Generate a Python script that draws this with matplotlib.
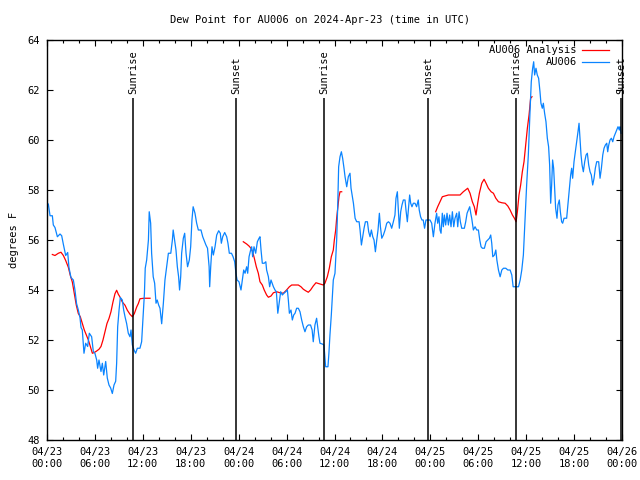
import numpy as np
import matplotlib
matplotlib.use("Agg")
import matplotlib.pyplot as plt
from matplotlib.lines import Line2D

plt.rcParams['font.family'] = ['DejaVu Sans Mono']
plt.rcParams['font.size'] = 7.5

# hours since 2024-04-23 00:00 UTC
obs_h = [0.0, 0.17, 0.38, 0.67, 0.79, 1.0, 1.3, 1.63, 1.84, 2.04, 2.34, 2.59, 2.75, 3.0, 3.3, 3.5, 3.7, 3.92,
         4.13, 4.26, 4.42, 4.63, 4.84, 5.09, 5.3, 5.59, 5.8, 6.0, 6.22, 6.34, 6.51, 6.76, 6.93, 7.1, 7.35, 7.55,
         7.76, 7.97, 8.18, 8.39, 8.6, 8.72, 8.85, 9.02, 9.18, 9.43, 9.6, 9.77, 9.97, 10.18, 10.39, 10.52, 10.69,
         10.9, 11.1, 11.31, 11.64, 11.85, 12.06, 12.2, 12.3, 12.48, 12.7, 12.8, 12.98, 13.1, 13.3, 13.48, 13.65,
         13.8, 13.98, 14.15, 14.36, 14.57, 14.77, 14.98, 15.2, 15.5, 15.7, 15.8, 15.98, 16.15, 16.32, 16.48, 16.6,
         16.74, 16.86, 17.07, 17.24, 17.41, 17.6, 17.82, 17.99, 18.15, 18.3, 18.53, 18.74, 18.95, 19.28, 19.5,
         19.66, 19.9, 20.1, 20.3, 20.37, 20.5, 20.66, 20.83, 21.04, 21.25, 21.5, 21.7, 21.83, 22.0, 22.25, 22.5,
         22.66, 22.83, 23.1, 23.3, 23.5, 23.66, 23.8, 24.04, 24.29, 24.46, 24.63, 24.8, 25.0, 25.13, 25.3, 25.5,
         25.63, 25.75, 25.92, 26.13, 26.34, 26.55, 26.67, 26.8, 26.96, 27.2, 27.4, 27.5, 27.72, 27.88, 28.05,
         28.2, 28.35, 28.55, 28.72, 28.9, 29.1, 29.26, 29.47, 29.67, 29.89, 30.1, 30.22, 30.35, 30.55, 30.72,
         30.89, 31.06, 31.26, 31.47, 31.68, 31.89, 32.1, 32.3, 32.51, 32.72, 33.0, 33.2, 33.34, 33.55, 33.76,
         33.89, 34.05, 34.18, 34.47, 34.68, 34.8, 34.89, 35.18, 35.3, 35.43, 35.6, 35.85, 36.06, 36.27, 36.4,
         36.52, 36.69, 36.86, 37.02, 37.19, 37.32, 37.53, 37.73, 37.94, 38.07, 38.24, 38.37, 38.58, 38.78, 39.08,
         39.2, 39.37, 39.53, 39.7, 39.87, 40.12, 40.28, 40.45, 40.62, 40.79, 40.95, 41.12, 41.29, 41.45, 41.62,
         41.75, 41.92, 42.12, 42.33, 42.54, 42.75, 42.95, 43.16, 43.37, 43.57, 43.7, 43.87, 43.99, 44.12, 44.29,
         44.45, 44.62, 44.83, 44.95, 45.12, 45.29, 45.41, 45.54, 45.7, 45.87, 46.08, 46.28, 46.49, 46.61, 46.78,
         46.95, 47.11, 47.28, 47.45, 47.74, 47.96, 48.17, 48.38, 48.58, 48.79, 48.92, 49.08, 49.21, 49.34, 49.5,
         49.63, 49.76, 49.92, 50.09, 50.26, 50.42, 50.59, 50.76, 50.93, 51.09, 51.3, 51.43, 51.6, 51.76, 51.93,
         52.26, 52.43, 52.6, 52.76, 52.93, 53.06, 53.18, 53.39, 53.6, 53.81, 54.02, 54.19, 54.35, 54.52, 54.77,
         54.98, 55.19, 55.4, 55.56, 55.69, 55.82, 56.03, 56.2, 56.33, 56.53, 56.74, 56.95, 57.16, 57.45, 57.7,
         57.99, 58.2, 58.37, 58.7, 59.04, 59.25, 59.45, 59.65, 59.85, 60.06, 60.27, 60.48, 60.64, 60.81, 60.94,
         61.06, 61.23, 61.39, 61.56, 61.73, 61.85, 62.02, 62.15, 62.31, 62.48, 62.65, 62.81, 62.94, 63.07, 63.19,
         63.31, 63.44, 63.56, 63.69, 63.86, 63.98, 64.15, 64.28, 64.44, 64.57, 64.74, 65.07, 65.24, 65.4, 65.57,
         65.7, 65.82, 65.99, 66.16, 66.33, 66.49, 66.62, 66.74, 66.87, 67.0, 67.16, 67.33, 67.5, 67.66, 67.83,
         68.0, 68.16, 68.33, 68.5, 68.66, 68.83, 69.08, 69.25, 69.42, 69.59, 69.75, 69.92, 70.09, 70.21, 70.34,
         70.5, 70.67, 70.84, 71.0, 71.17, 71.34, 71.5, 71.67, 71.75, 71.88]
obs_dp = [57.5, 57.43, 56.97, 56.97, 56.6, 56.5, 56.13, 56.24, 56.17, 55.84, 55.38, 55.5, 54.9, 54.5, 54.4, 54.0,
          53.46, 53.2, 52.9, 52.5, 52.4, 51.47, 51.87, 51.74, 52.27, 52.13, 51.54, 51.47, 51.2, 50.87, 51.2, 50.74,
          51.07, 50.6, 51.14, 50.48, 50.2, 50.08, 49.86, 50.2, 50.35, 51.07, 52.53, 53.19, 53.7, 53.6, 53.2, 52.93,
          52.66, 52.27, 52.13, 52.4, 51.8, 51.6, 51.47, 51.67, 51.67, 51.93, 53.06, 53.87, 54.87, 55.2, 56.0, 57.13,
          56.67, 55.47, 54.53, 54.27, 53.47, 53.6, 53.4, 53.27, 52.65, 53.47, 54.4, 54.93, 55.47, 55.47, 56.0,
          56.4, 56.0, 55.6, 54.93, 54.53, 54.0, 54.53, 55.47, 56.07, 56.27, 55.47, 54.93, 55.2, 55.73, 56.8,
          57.33, 57.07, 56.67, 56.4, 56.4, 56.13, 56.0, 55.8, 55.67, 54.93, 54.13, 54.93, 55.73, 55.4, 55.73,
          56.2, 56.37, 56.27, 55.87, 56.13, 56.3, 56.13, 55.87, 55.47, 55.47, 55.33, 55.13, 54.67, 54.4, 54.33,
          54.0, 54.4, 54.8, 54.67, 54.93, 54.67, 55.33, 55.6, 55.73, 55.33, 55.73, 55.47, 55.93, 56.07, 56.13,
          55.6, 55.07, 55.07, 55.13, 54.8, 54.53, 54.13, 54.4, 54.27, 54.13, 54.0, 53.93, 53.07, 53.53, 53.93,
          53.8, 53.87, 53.93, 54.0, 53.6, 53.07, 53.2, 52.8, 53.0, 53.07, 53.27, 53.27, 53.13, 52.8, 52.53, 52.33,
          52.53, 52.6, 52.6, 52.4, 51.93, 52.6, 52.87, 52.53, 52.13, 51.87, 51.84, 51.8, 51.33, 50.93, 50.93,
          51.47, 52.2, 53.0, 54.4, 54.67, 56.0, 57.33, 58.93, 59.33, 59.53, 59.27, 58.87, 58.53, 58.13, 58.53,
          58.67, 58.07, 57.73, 57.47, 56.87, 56.73, 56.73, 56.4, 55.8, 56.13, 56.47, 56.73, 56.73, 56.33, 56.13,
          56.4, 56.13, 56.0, 55.53, 56.0, 56.4, 57.07, 56.53, 56.07, 56.2, 56.4, 56.67, 56.73, 56.67, 56.47,
          56.73, 57.0, 57.67, 57.93, 57.2, 56.47, 57.13, 57.4, 57.6, 57.6, 57.2, 56.73, 57.33, 57.8, 57.47, 57.33,
          57.47, 57.47, 57.33, 57.6, 57.2, 56.93, 56.8, 56.8, 56.47, 56.8, 56.8, 56.8, 56.67, 56.13, 56.67, 57.07,
          56.67, 56.93, 56.4, 56.27, 57.07, 56.53, 57.0, 56.6, 57.07, 56.6, 57.0, 56.53, 57.13, 56.53, 56.87,
          57.07, 56.53, 57.13, 56.73, 56.47, 56.47, 56.73, 57.07, 57.2, 57.33, 57.07, 56.87, 56.4, 56.53, 56.4,
          56.4, 56.0, 55.73, 55.67, 55.67, 55.93, 56.0, 56.07, 56.2, 55.87, 55.33, 55.4, 55.6, 55.2, 54.8, 54.53,
          54.8, 54.87, 54.87, 54.8, 54.8, 54.6, 54.13, 54.13, 54.13, 54.4, 54.8, 55.4, 56.73, 58.2, 59.4, 61.13,
          62.33, 62.87, 63.13, 62.6, 62.87, 62.6, 62.47, 61.93, 61.47, 61.27, 61.47, 61.07, 60.73, 60.07, 59.73,
          59.0, 57.47, 58.2, 59.2, 58.87, 58.13, 57.27, 56.87, 57.4, 57.6, 57.13, 56.73, 56.67, 56.87, 56.87,
          57.47, 58.07, 58.6, 58.87, 58.47, 59.13, 59.53, 59.93, 60.33, 60.67, 60.07, 59.4, 59.0, 58.73, 59.13,
          59.4, 59.47, 59.0, 58.73, 58.6, 58.2, 58.47, 58.87, 59.13, 59.13, 58.47, 58.87, 59.4, 59.67, 59.8,
          59.87, 59.53, 59.8, 60.0, 60.07, 59.93, 60.13, 60.27, 60.4, 60.53, 60.4, 60.53, 60.27]

# analysis (three pieces, gaps between)
ana_h = [0.67, 1.0, 1.42, 1.75, 2.05, 2.34, 2.67, 2.92, 3.17, 3.42, 3.67, 3.92, 4.17, 4.42, 4.67, 4.92, 5.18,
         5.43, 5.68, 5.93, 6.22, 6.51, 6.76, 7.01, 7.26, 7.51, 7.76, 8.01, 8.26, 8.51, 8.72, 8.93, 9.14, 9.43,
         9.77, 10.06, 10.39, 10.69, 10.94, 11.23, 11.44, 11.64, 12.14, 12.9,
         np.nan,
         24.58, 25.0, 25.29, 25.54, 25.75, 25.96, 26.21, 26.46, 26.67, 26.96, 27.2, 27.5, 27.72, 28.05, 28.35,
         28.76, 29.18, 29.6, 30.0, 30.35, 30.64, 31.06, 31.47, 31.8, 32.1, 32.39, 32.72, 33.0, 33.34, 33.68,
         34.3, 34.6, 34.8, 35.1, 35.35, 35.6, 35.85, 35.98, 36.15, 36.27, 36.4, 36.56, 36.69, 36.9,
         np.nan,
         48.67, 48.92, 49.21, 49.5, 49.84, 50.26, 51.09, 51.72, 52.13, 52.68, 52.97, 53.26, 53.51, 53.72, 53.93,
         54.14, 54.44, 54.73, 54.98, 55.27, 55.61, 55.9, 56.2, 56.53, 56.95, 57.37, 57.7, 57.99, 58.28, 58.53,
         58.74, 58.9, 59.1, 59.31, 59.52, 59.73, 59.94, 60.15, 60.36, 60.56, 60.73]
ana_dp = [55.42, 55.38, 55.47, 55.51, 55.38, 55.18, 54.91, 54.58, 54.32, 53.85, 53.39, 53.06, 52.93, 52.66, 52.4,
          52.2, 52.0, 51.74, 51.47, 51.5, 51.56, 51.63, 51.74, 52.0, 52.33, 52.66, 52.86, 53.13, 53.52, 53.85,
          53.99, 53.83, 53.72, 53.52, 53.39, 53.19, 53.03, 52.93, 53.06, 53.32, 53.46, 53.65, 53.67, 53.67,
          np.nan,
          55.93, 55.84, 55.76, 55.67, 55.53, 55.27, 54.93, 54.67, 54.33, 54.2, 54.0, 53.8, 53.71, 53.76, 53.89,
          53.93, 53.89, 53.87, 54.0, 54.13, 54.2, 54.2, 54.2, 54.13, 54.03, 53.97, 53.91, 54.0, 54.16, 54.29,
          54.23, 54.2, 54.27, 54.53, 54.87, 55.33, 55.6, 56.0, 56.4, 56.87, 57.27, 57.73, 57.93, 57.93,
          np.nan,
          57.13, 57.33, 57.53, 57.73, 57.76, 57.8, 57.8, 57.8, 57.93, 58.07, 57.87, 57.53, 57.33, 57.0, 57.47,
          57.87, 58.27, 58.43, 58.27, 58.07, 57.93, 57.87, 57.67, 57.53, 57.49, 57.47, 57.36, 57.2, 57.0, 56.87,
          56.73, 57.13, 57.8, 58.2, 58.73, 59.13, 59.8, 60.47, 61.0, 61.67, 61.73]

event_h = [10.75, 23.67, 34.7, 47.7, 58.73, 71.9]
event_names = ["Sunrise", "Sunset", "Sunrise", "Sunset", "Sunrise", "Sunset"]

tick_h = list(range(0, 73, 6))
tick_lab = ["04/23\n00:00", "04/23\n06:00", "04/23\n12:00", "04/23\n18:00",
            "04/24\n00:00", "04/24\n06:00", "04/24\n12:00", "04/24\n18:00",
            "04/25\n00:00", "04/25\n06:00", "04/25\n12:00", "04/25\n18:00",
            "04/26\n00:00"]

fig = plt.figure(figsize=(6.4, 4.8), dpi=100)
ax = fig.add_axes([47/640, 40/480, 575/640, 400/480])

ax.plot(ana_h, ana_dp, color='#ff0000', lw=0.9)
ax.plot(obs_h, obs_dp, color='#0a84ff', lw=0.9)

ax.vlines(event_h, 48, 61.7, color='black', lw=1.1)
for h, name in zip(event_h, event_names):
    ax.text(h, 61.85, name, rotation=90, ha='center', va='bottom', clip_on=False)

ax.set_xlim(0, 72)
ax.set_ylim(48, 64)
ax.set_xticks(tick_h)
ax.set_xticklabels(tick_lab)
ax.set_xticks(range(0, 73, 2), minor=True)
ax.set_yticks(range(48, 65, 2))
ax.tick_params(which='both', direction='in', top=True, right=True, pad=5)
ax.tick_params(which='major', length=4, width=0.8)
ax.tick_params(which='minor', length=2.5, width=0.8)
for s in ax.spines.values():
    s.set_linewidth(1.0)

ax.set_ylabel("degrees F", labelpad=6)
fig.text(0.5, 0.958, "Dew Point for AU006 on 2024-Apr-23 (time in UTC)", ha='center', va='center')

# key, top right, text to the left of the sample line
tr = ax.transAxes
ax.text(0.921, 0.974, "AU006 Analysis", transform=tr, ha='right', va='center')
ax.add_line(Line2D([0.93, 0.978], [0.974, 0.974], transform=tr, color='#ff0000', lw=0.9))
ax.text(0.921, 0.944, "AU006", transform=tr, ha='right', va='center')
ax.add_line(Line2D([0.93, 0.978], [0.944, 0.944], transform=tr, color='#0a84ff', lw=0.9))

fig.savefig("out.png", dpi=100)
